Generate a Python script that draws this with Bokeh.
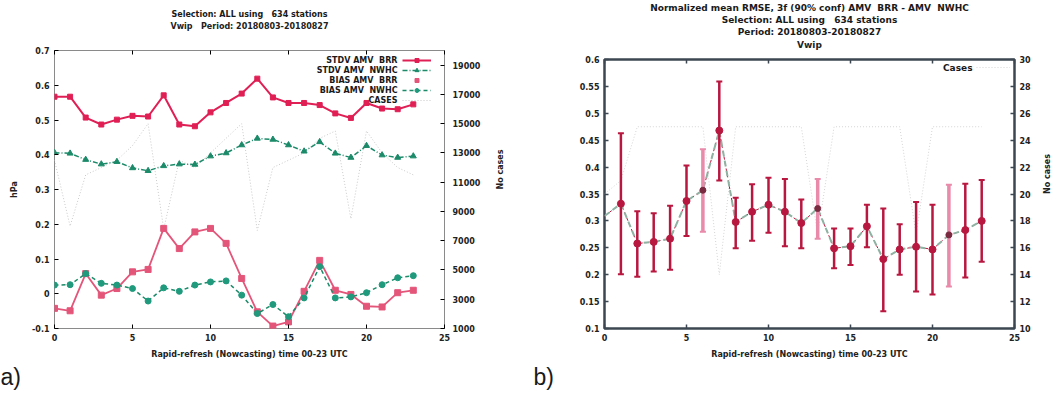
import math
from bokeh.plotting import figure
from bokeh.models import (Range1d, LinearAxis, FixedTicker, CustomJSTickFormatter,
                          Label, Legend, LegendItem, ColumnDataSource, Title)
from bokeh.layouts import row
from bokeh.embed import file_html
from bokeh.resources import INLINE

# ---------------- data: panel a ----------------
hours = list(range(24))
stdv_brr = [0.567, 0.567, 0.507, 0.487, 0.501, 0.512, 0.510, 0.571, 0.487, 0.482, 0.522, 0.549,
            0.576, 0.619, 0.565, 0.549, 0.549, 0.543, 0.519, 0.506, 0.549, 0.533, 0.531, 0.545]
stdv_nwhc = [0.406, 0.404, 0.386, 0.373, 0.380, 0.362, 0.354, 0.368, 0.373, 0.372, 0.396, 0.405,
             0.428, 0.447, 0.444, 0.428, 0.410, 0.437, 0.404, 0.392, 0.426, 0.399, 0.392, 0.396]
bias_brr = [-0.042, -0.049, 0.058, -0.004, 0.015, 0.063, 0.070, 0.188, 0.130, 0.178, 0.188, 0.145,
            0.044, -0.052, -0.093, -0.081, 0.007, 0.096, 0.010, -0.002, -0.036, -0.038, 0.003, 0.010]
bias_nwhc = [0.025, 0.026, 0.058, 0.030, 0.025, 0.015, -0.021, 0.017, 0.007, 0.025, 0.034, 0.037,
             -0.004, -0.057, -0.031, -0.066, -0.012, 0.078, -0.012, -0.009, 0.003, 0.026, 0.046, 0.052]
cases_a = [12500, 8000, 11500, 12000, 12500, 13500, 15000, 7800, 12500, 12000, 13000, 14000,
           15000, 7700, 12000, 12500, 13000, 14000, 14500, 8500, 14500, 13000, 12000, 11500]
a_left_ticks = [-0.1, 0, 0.1, 0.2, 0.3, 0.4, 0.5, 0.6, 0.7]
a_right_ticks = [1000, 3000, 5000, 7000, 9000, 11000, 13000, 15000, 17000, 19000]
x_ticks = [0, 5, 10, 15, 20, 25]

# ---------------- data: panel b ----------------
b_hours = list(range(1, 24))
b_mean = [0.332, 0.258, 0.261, 0.267, 0.337, 0.357, 0.468, 0.298, 0.317, 0.330, 0.317, 0.296,
          0.323, 0.249, 0.253, 0.290, 0.229, 0.247, 0.252, 0.247, 0.274, 0.283, 0.300]
b_upper = [0.463, 0.318, 0.314, 0.328, 0.403, 0.433, 0.559, 0.343, 0.368, 0.380, 0.378, 0.340,
           0.378, 0.286, 0.286, 0.330, 0.323, 0.294, 0.335, 0.330, 0.367, 0.369, 0.376]
b_lower = [0.201, 0.196, 0.206, 0.209, 0.272, 0.280, 0.375, 0.249, 0.263, 0.278, 0.253, 0.249,
           0.267, 0.212, 0.218, 0.251, 0.132, 0.200, 0.169, 0.163, 0.178, 0.195, 0.224]
pink_hours = [6, 13, 21]
b_line_hours = list(range(24))
b_line = [0.309] + b_mean
cases_b = [20, 21, 25, 25, 25, 25, 25, 14, 25, 25, 25, 25, 25, 17, 25, 25, 25, 25, 25, 17, 25, 25, 25, 25]
b_left_ticks = [0.1, 0.15, 0.2, 0.25, 0.3, 0.35, 0.4, 0.45, 0.5, 0.55, 0.6]
b_right_ticks = [10, 12, 14, 16, 18, 20, 22, 24, 26, 28, 30]

NB = "\u00a0"
FONT = "DejaVu Sans"
fmt = CustomJSTickFormatter(code="return Number(tick.toFixed(3)).toString()")
blank = CustomJSTickFormatter(code="return ''")


def style_axis(ax, size="8px"):
    ax.major_tick_in = 4
    ax.major_tick_out = 0
    ax.minor_tick_in = 0
    ax.minor_tick_out = 0
    ax.axis_line_color = None
    ax.major_label_text_font = FONT
    ax.major_label_text_font_size = size
    ax.major_label_text_font_style = "bold"
    ax.major_label_text_color = "#222222"
    ax.axis_label_text_font = FONT
    ax.axis_label_text_font_size = "8px"
    ax.axis_label_text_font_style = "bold"
    ax.axis_label_text_color = "#222222"


def lab(p, x, y, text, size="8px", align="center"):
    p.add_layout(Label(x=x, y=y, x_units="screen", y_units="screen", text=text,
                       text_font=FONT, text_font_size=size, text_align=align,
                       text_baseline="middle", text_color="#1a1a1a", text_font_style="bold"))


def title(p, text, size, where="above", align="center", offset=0, bold=True, font=FONT):
    p.add_layout(Title(text=text, align=align, offset=offset, standoff=0,
                       text_font=font, text_font_size=size, text_color="#1a1a1a",
                       text_font_style="bold" if bold else "normal"), where)


# ================= panel a =================
pa = figure(width=530, height=393, output_backend="svg", toolbar_location=None,
            x_range=Range1d(0, 25), y_range=Range1d(-0.1, 0.7),
            min_border_left=54, min_border_right=86, min_border_top=50, min_border_bottom=65)
pa.frame_align = False
pa.extra_y_ranges = {"cases": Range1d(1000, 20000)}
pa.grid.visible = False
pa.outline_line_color = "#8a8a8a"
pa.outline_line_width = 1

xa = pa.below[0]
ya = pa.left[0]
xa.ticker = FixedTicker(ticks=x_ticks)
xa.axis_label = "Rapid-refresh (Nowcasting) time 00-23 UTC"
ya.ticker = FixedTicker(ticks=a_left_ticks)
ya.formatter = fmt
ya.axis_label = "hPa"
ra = LinearAxis(y_range_name="cases", ticker=FixedTicker(ticks=a_right_ticks), axis_label="No cases")
pa.add_layout(ra, "right")
ta = LinearAxis(ticker=FixedTicker(ticks=x_ticks), formatter=blank,
                axis_label="Vwip" + NB * 2 + " Period: 20180803-20180827")
pa.add_layout(ta, "above")
for ax in [xa, ya, ra, ta]:
    style_axis(ax)
ta.major_label_standoff = 0
ta.axis_label_standoff = 20
ra.major_label_standoff = 8
xa.axis_label_standoff = 6
ya.axis_label_standoff = 10
ra.axis_label_standoff = 17
ra.axis_label_orientation = math.pi / 2

RED = "#e01f55"
PINK = "#e4557a"
GREEN = "#1b8a68"
GREY = "#c9c9c9"

rc = pa.line(hours, cases_a, y_range_name="cases", line_color=GREY, line_dash="1 2", line_width=1)
r1 = pa.line(hours, stdv_brr, line_color=RED, line_width=2)
r1m = pa.scatter(hours, stdv_brr, marker="square", size=5, color=RED)
r2 = pa.line(hours, stdv_nwhc, line_color=GREEN, line_width=1.5, line_dash="5 2 1 2")
r2m = pa.scatter(hours, stdv_nwhc, marker="triangle", size=6, color=GREEN)
r3 = pa.line(hours, bias_brr, line_color=PINK, line_width=1.8)
r3m = pa.scatter(hours, bias_brr, marker="square", size=6, color=PINK)
r4 = pa.line(hours, bias_nwhc, line_color=GREEN, line_width=1.5, line_dash="4 3")
r4m = pa.scatter(hours, bias_nwhc, marker="circle", size=6, color="#1f9a7c")

leg_a = Legend(items=[LegendItem(label=" ", renderers=[r1, r1m]),
                      LegendItem(label=" ", renderers=[r2, r2m]),
                      LegendItem(label=" ", renderers=[r3m]),
                      LegendItem(label=" ", renderers=[r4, r4m]),
                      LegendItem(label=" ", renderers=[rc])],
               location=(348, 223), glyph_width=29, glyph_height=10, label_height=10,
               label_width=0, label_standoff=0, spacing=0, padding=0, margin=0,
               border_line_color=None, background_fill_alpha=0, label_text_font_size="4px")
pa.add_layout(leg_a)
for i, t in enumerate(["STDV AMV" + NB + " BRR", "STDV AMV" + NB + " NWHC", "BIAS AMV" + NB + " BRR",
                       "BIAS AMV" + NB + " NWHC", "CASES"]):
    lab(pa, 343, 268 - 10 * i, t, size="8px", align="right")

title(pa, "Selection: ALL using" + NB * 2 + " 634 stations", "8px")
title(pa, "a)", "23px", where="below", align="left", offset=-54, bold=False, font="Liberation Sans")

# ================= panel b =================
pb = figure(width=529, height=393, output_backend="svg", toolbar_location=None,
            x_range=Range1d(0, 25), y_range=Range1d(0.1, 0.6),
            min_border_left=74, min_border_right=41, min_border_top=58, min_border_bottom=65)
pb.frame_align = False
pb.extra_y_ranges = {"cases": Range1d(10, 30)}
pb.grid.visible = False
pb.outline_line_color = "#3d4752"
pb.outline_line_width = 2.5

xb = pb.below[0]
yb = pb.left[0]
xb.ticker = FixedTicker(ticks=x_ticks)
xb.axis_label = "Rapid-refresh (Nowcasting) time 00-23 UTC"
yb.ticker = FixedTicker(ticks=b_left_ticks)
yb.formatter = fmt
rb = LinearAxis(y_range_name="cases", ticker=FixedTicker(ticks=b_right_ticks), axis_label="No cases")
pb.add_layout(rb, "right")
tb = LinearAxis(ticker=FixedTicker(ticks=x_ticks), formatter=blank, axis_label="Vwip")
pb.add_layout(tb, "above")
for ax in [xb, yb, rb, tb]:
    style_axis(ax, size="8px")
    ax.major_tick_line_color = "#3d4752"
    ax.major_tick_line_width = 1.5
tb.axis_label_text_font_size = "9px"
tb.major_label_standoff = 0
tb.axis_label_standoff = 10
xb.axis_label_standoff = 6
rb.axis_label_standoff = 14
rb.axis_label_orientation = math.pi / 2

DRED = "#b8173f"
LPINK = "#e98aab"

rcb = pb.line(b_line_hours, cases_b, y_range_name="cases", line_color="#d4d4d4", line_dash="1 2", line_width=1)
pb.line(b_line_hours, b_line, line_color=DRED, line_width=1, line_dash="3 3")
pb.line(b_line_hours, b_line, line_color="#8fb2a2", line_width=2, line_dash="6 4")

norm = [h not in pink_hours for h in b_hours]
src_n = ColumnDataSource(dict(x=[h for h, k in zip(b_hours, norm) if k],
                              m=[v for v, k in zip(b_mean, norm) if k],
                              u=[v for v, k in zip(b_upper, norm) if k],
                              l=[v for v, k in zip(b_lower, norm) if k]))
src_p = ColumnDataSource(dict(x=[h for h, k in zip(b_hours, norm) if not k],
                              m=[v for v, k in zip(b_mean, norm) if not k],
                              u=[v for v, k in zip(b_upper, norm) if not k],
                              l=[v for v, k in zip(b_lower, norm) if not k]))
for src, col, w in [(src_n, DRED, 2.5), (src_p, LPINK, 3.5)]:
    pb.segment(x0="x", y0="l", x1="x", y1="u", source=src, line_color=col, line_width=w)
    pb.scatter(x="x", y="u", source=src, marker="dash", size=6, line_color=col, line_width=2)
    pb.scatter(x="x", y="l", source=src, marker="dash", size=6, line_color=col, line_width=2)
pb.scatter(x="x", y="m", source=src_n, marker="circle", size=7, color=DRED)
pb.scatter(x="x", y="m", source=src_p, marker="circle", size=6, color="#7a2a40")

leg_b = Legend(items=[LegendItem(label=" ", renderers=[rcb])],
               location=(372, 256), glyph_width=34, glyph_height=10, label_height=10,
               label_width=0, label_standoff=0, spacing=0, padding=0, margin=0,
               border_line_color=None, background_fill_alpha=0, label_text_font_size="4px")
pb.add_layout(leg_b)
lab(pb, 368, 261, "Cases", size="9px", align="right")

title(pb, "Period: 20180803-20180827", "9px")
title(pb, "Selection: ALL using" + NB * 2 + " 634 stations", "9px")
title(pb, "Normalized mean RMSE, 3f (90% conf) AMV" + NB + " BRR - AMV" + NB + " NWHC", "9px")
title(pb, "b)", "23px", where="below", align="left", offset=-71, bold=False, font="Liberation Sans")

layout = row(pa, pb)
open("out.html", "w").write(file_html(layout, INLINE))
